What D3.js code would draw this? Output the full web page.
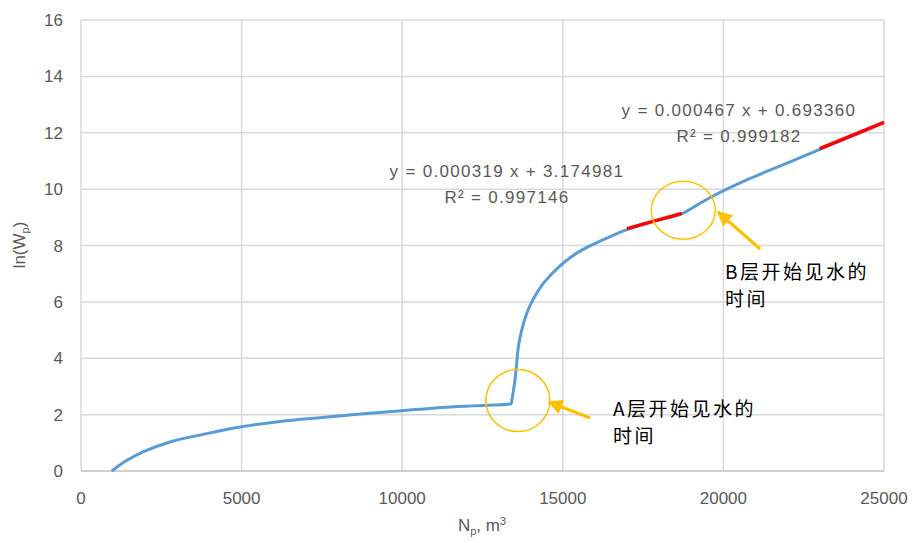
<!DOCTYPE html>
<html>
<head>
<meta charset="utf-8">
<style>
body { margin: 0; background: #fff; }
text { font-family: "Liberation Sans", Arial, sans-serif; fill: #595959; }
.cjk { font-family: "Noto Sans CJK SC", sans-serif; fill: #000; }
</style>
</head>
<body>
<script src="https://cdn.jsdelivr.net/npm/d3@7/dist/d3.min.js"></script>
<script>
// cumulative production Np vs ln(Wp)
var np = [955, 1420, 1930, 2770, 3800, 5000, 6200, 7500, 8800, 10000, 11600, 13300, 13390,
          13420, 13470, 13512, 13565, 13617, 13720, 13876, 14082, 14341, 14700, 15016, 15535,
          16000, 16366, 16990, 17800, 18650, 19200, 19790, 20830, 22000, 23060, 24000, 25000];
var lnWp = [0, 0.37, 0.68, 1.03, 1.3, 1.57, 1.76, 1.9, 2.03, 2.14, 2.28, 2.37, 2.39,
            2.55, 2.9, 3.23, 3.82, 4.41, 5.0, 5.59, 6.1, 6.58, 7.04, 7.38, 7.8,
            8.07, 8.26, 8.56, 8.85, 9.1, 9.45, 9.82, 10.38, 10.93, 11.44, 11.88, 12.38];

// trendlines shown on the chart
var trends = [
  {slope: 0.000319, icept: 3.174981, from: 17000, to: 18700, eq: "y = 0.000319 x + 3.174981", r2: "R² = 0.997146", lx: 507, ly: 177},
  {slope: 0.000467, icept: 0.693360, from: 23000, to: 25000, eq: "y = 0.000467 x + 0.693360", r2: "R² = 0.999182", lx: 739, ly: 116}
];

var xTicks = [0, 5000, 10000, 15000, 20000, 25000];
var yTicks = [0, 2, 4, 6, 8, 10, 12, 14, 16];

var width = 914, height = 543;
var margin = {top: 20, right: 30, bottom: 72, left: 81};

var svg = d3.select("body").append("svg")
    .attr("width", width)
    .attr("height", height);

var x = d3.scaleLinear().domain([0, 25000]).range([margin.left, width - margin.right]);
var y = d3.scaleLinear().domain([0, 16]).range([height - margin.bottom, margin.top]);

// grid
svg.append("g").selectAll("line.h")
    .data(yTicks.slice(1))
    .enter().append("line")
    .attr("x1", x(0)).attr("x2", x(25000))
    .attr("y1", function(d) { return y(d); }).attr("y2", function(d) { return y(d); })
    .style("stroke", "#d9d9d9").style("stroke-width", 1.5);

svg.append("g").selectAll("line.v")
    .data(xTicks)
    .enter().append("line")
    .attr("x1", function(d) { return x(d); }).attr("x2", function(d) { return x(d); })
    .attr("y1", y(0)).attr("y2", y(16))
    .style("stroke", "#d9d9d9").style("stroke-width", 1.5);

// x axis line
svg.append("line")
    .attr("x1", x(0)).attr("x2", x(25000))
    .attr("y1", y(0)).attr("y2", y(0))
    .style("stroke", "#bfbfbf").style("stroke-width", 1.5);

// tick labels
svg.append("g").selectAll("text")
    .data(yTicks)
    .enter().append("text")
    .attr("x", x(0) - 18)
    .attr("y", function(d) { return y(d) + 6; })
    .attr("text-anchor", "end")
    .style("font-size", "17px")
    .text(function(d) { return d; });

svg.append("g").selectAll("text")
    .data(xTicks)
    .enter().append("text")
    .attr("x", function(d) { return x(d); })
    .attr("y", y(0) + 33)
    .attr("text-anchor", "middle")
    .style("font-size", "17px")
    .text(function(d) { return d; });

// axis titles
var xt = svg.append("text")
    .attr("x", 482).attr("y", 531)
    .attr("text-anchor", "middle")
    .style("font-size", "17px");
xt.append("tspan").text("N");
xt.append("tspan").attr("dy", 4).style("font-size", "11px").text("p");
xt.append("tspan").attr("dy", -4).text(", m");
xt.append("tspan").attr("dy", -6).style("font-size", "11px").text("3");

var yt = svg.append("text")
    .attr("transform", "translate(25,245) rotate(-90)")
    .attr("text-anchor", "middle")
    .style("font-size", "17px");
yt.append("tspan").text("ln(W");
yt.append("tspan").attr("dy", 4).style("font-size", "11px").text("p");
yt.append("tspan").attr("dy", -4).text(")");

// main curve
var pts = np.map(function(d, i) { return [d, lnWp[i]]; });
var line = d3.line()
    .x(function(d) { return x(d[0]); })
    .y(function(d) { return y(d[1]); })
    .curve(d3.curveCatmullRom.alpha(0.5));

svg.append("path")
    .datum(pts)
    .attr("d", line)
    .style("fill", "none")
    .style("stroke", "#5b9bd5")
    .style("stroke-width", 3)
    .style("stroke-linejoin", "round");

// trendlines + labels
trends.forEach(function(t) {
  svg.append("line")
      .attr("x1", x(t.from)).attr("y1", y(t.slope * t.from + t.icept))
      .attr("x2", x(t.to)).attr("y2", y(t.slope * t.to + t.icept))
      .style("stroke", "#ff0000").style("stroke-width", 3.5);
  svg.append("text")
      .attr("x", t.lx).attr("y", t.ly)
      .attr("text-anchor", "middle")
      .style("font-size", "17px")
      .style("letter-spacing", "1.3px")
      .text(t.eq);
  svg.append("text")
      .attr("x", t.lx).attr("y", t.ly + 26)
      .attr("text-anchor", "middle")
      .style("font-size", "17px")
      .style("letter-spacing", "1.3px")
      .text(t.r2);
});

// callouts
var callouts = [
  {cx: 13600, cy: 2.5, rx: 32, ry: 31, ax1: 590, ay1: 418, ax2: 549, ay2: 402, tx: 613, ty: 416, label: "A层开始见水的"},
  {cx: 18750, cy: 9.25, rx: 32, ry: 29, ax1: 760, ay1: 249, ax2: 718, ay2: 212, tx: 725, ty: 279, label: "B层开始见水的"}
];

svg.append("defs").append("marker")
    .attr("id", "head")
    .attr("viewBox", "0 0 10 10")
    .attr("refX", 9).attr("refY", 5)
    .attr("markerWidth", 5).attr("markerHeight", 5)
    .attr("markerUnits", "strokeWidth")
    .attr("orient", "auto")
    .append("path")
    .attr("d", "M0,0L10,5L0,10z")
    .style("fill", "#ffc000");

callouts.forEach(function(c) {
  svg.append("ellipse")
      .attr("cx", x(c.cx)).attr("cy", y(c.cy))
      .attr("rx", c.rx).attr("ry", c.ry)
      .style("fill", "none").style("stroke", "#ffc000").style("stroke-width", 1.5);
  svg.append("line")
      .attr("x1", c.ax1).attr("y1", c.ay1)
      .attr("x2", c.ax2).attr("y2", c.ay2)
      .attr("marker-end", "url(#head)")
      .style("stroke", "#ffc000").style("stroke-width", 3);
  svg.append("text").attr("class", "cjk")
      .attr("x", c.tx).attr("y", c.ty)
      .style("font-size", "19px")
      .style("letter-spacing", "2.5px")
      .text(c.label);
  svg.append("text").attr("class", "cjk")
      .attr("x", c.tx).attr("y", c.ty + 27)
      .style("font-size", "19px")
      .style("letter-spacing", "2.5px")
      .text("时间");
});
</script>
</body>
</html>
